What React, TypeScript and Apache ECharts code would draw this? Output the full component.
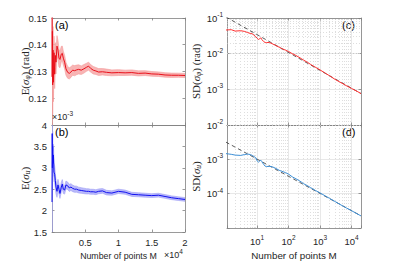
import React, { useEffect, useRef } from 'react';
import * as echarts from 'echarts';

// Panels (a),(b): running estimate vs number of points M
const mLin = [1, 30, 60, 100, 150, 220, 300, 400, 500, 600, 750, 900, 1050, 1200, 1400, 1550, 1700, 1900, 2100, 2350, 2600, 2850, 3100, 3400, 3700, 4000, 4400, 4800, 5200, 5500, 5800, 6200, 6600, 7000, 7600, 8200, 9000, 10000, 11000, 12000, 13000, 14000, 15000, 16000, 17000, 18000, 19000, 20000];
const meanPhi = [0.16, 0.128, 0.145, 0.125, 0.138, 0.126, 0.137, 0.129, 0.136, 0.1335, 0.1395, 0.138, 0.135, 0.1345, 0.1365, 0.1368, 0.135, 0.1335, 0.131, 0.1297, 0.1293, 0.1298, 0.1305, 0.1303, 0.1306, 0.1308, 0.1305, 0.131, 0.1316, 0.132, 0.1312, 0.1305, 0.1302, 0.1298, 0.1299, 0.1297, 0.1295, 0.1296, 0.1295, 0.1296, 0.1293, 0.1294, 0.1291, 0.129, 0.1287, 0.1286, 0.1286, 0.1285];
const halfPhi = [0.046, 0.02, 0.014, 0.011, 0.0088, 0.0073, 0.0062, 0.0054, 0.0048, 0.0044, 0.0039, 0.0036, 0.0033, 0.0031, 0.0029, 0.0027, 0.0026, 0.0025, 0.0024, 0.0022, 0.0021, 0.002, 0.0019, 0.0019, 0.0018, 0.0017, 0.0016, 0.0016, 0.0015, 0.0015, 0.0014, 0.0014, 0.0013, 0.0013, 0.0012, 0.0012, 0.0011, 0.0011, 0.001, 0.001, 0.00095, 0.00091, 0.00088, 0.00085, 0.00083, 0.0008, 0.00078, 0.00076];
// panel (b) values in units of 1e-3
const meanU = [2.2, 3.8, 3.0, 3.5, 3.1, 3.3, 2.9, 2.85, 2.7, 2.55, 2.45, 2.6, 2.5, 2.4, 2.55, 2.62, 2.5, 2.48, 2.6, 2.58, 2.53, 2.55, 2.52, 2.5, 2.5, 2.48, 2.47, 2.46, 2.45, 2.45, 2.44, 2.44, 2.43, 2.45, 2.46, 2.42, 2.41, 2.45, 2.43, 2.38, 2.37, 2.36, 2.35, 2.36, 2.33, 2.3, 2.28, 2.26];
const halfU = [1.5, 0.6, 0.45, 0.35, 0.3, 0.25, 0.22, 0.19, 0.17, 0.16, 0.14, 0.13, 0.12, 0.115, 0.11, 0.105, 0.1, 0.095, 0.09, 0.087, 0.083, 0.08, 0.077, 0.074, 0.071, 0.068, 0.066, 0.064, 0.062, 0.06, 0.059, 0.058, 0.057, 0.056, 0.055, 0.054, 0.052, 0.05, 0.049, 0.048, 0.047, 0.046, 0.045, 0.045, 0.044, 0.044, 0.043, 0.043];

// Panels (c),(d): standard deviation vs M (log-log)
const mLog = [1, 1.5, 2, 3, 4, 5, 6, 7, 8, 9, 10, 11, 12, 13, 14, 16, 18, 20, 25, 30, 40, 50, 60, 80, 100, 130, 160, 200, 250, 300, 400, 500, 700, 1000, 1500, 2000, 3000, 5000, 7000, 10000, 15000, 20000];
const sdPhi = [0.046, 0.047, 0.043, 0.044, 0.042, 0.039, 0.037, 0.036, 0.033, 0.03, 0.027, 0.025, 0.026, 0.028, 0.025, 0.022, 0.0205, 0.0205, 0.0205, 0.019, 0.0168, 0.0152, 0.014, 0.0125, 0.0115, 0.01, 0.0092, 0.0082, 0.0073, 0.0066, 0.0057, 0.005, 0.0042, 0.0035, 0.0028, 0.0024, 0.0019, 0.00148, 0.00125, 0.00106, 0.00088, 0.00076];
const sdU = [0.00147, 0.0014, 0.00133, 0.0013, 0.00138, 0.00142, 0.00138, 0.0013, 0.0012, 0.00112, 0.0009, 0.00083, 0.00088, 0.00095, 0.00086, 0.00072, 0.00063, 0.00062, 0.00062, 0.00061, 0.00054, 0.00048, 0.00045, 0.00041, 0.00037, 0.00031, 0.00028, 0.00025, 0.00022, 0.000195, 0.00017, 0.00015, 0.000125, 0.000105, 0.000085, 0.000073, 0.000059, 0.000045, 0.000038, 0.000032, 0.000026, 0.0000225];
const refM = [1, 20000];
const refPhi = [0.108, 0.00076];
const refU = [0.0032, 0.0000226];

// minor grid positions for log axes
const minorX = [2, 3, 4, 5, 6, 7, 8, 9, 20, 30, 40, 50, 60, 70, 80, 90, 200, 300, 400, 500, 600, 700, 800, 900, 2000, 3000, 4000, 5000, 6000, 7000, 8000, 9000];
const minorYc = [2e-4, 3e-4, 4e-4, 5e-4, 6e-4, 7e-4, 8e-4, 9e-4, 2e-3, 3e-3, 4e-3, 5e-3, 6e-3, 7e-3, 8e-3, 9e-3, 2e-2, 3e-2, 4e-2, 5e-2, 6e-2, 7e-2, 8e-2, 9e-2];
const minorYd = [2e-5, 3e-5, 4e-5, 5e-5, 6e-5, 7e-5, 8e-5, 9e-5, 2e-4, 3e-4, 4e-4, 5e-4, 6e-4, 7e-4, 8e-4, 9e-4, 2e-3, 3e-3, 4e-3, 5e-3, 6e-3, 7e-3, 8e-3, 9e-3];

const SANS = '"Liberation Sans", Arial, sans-serif';
const SERIF = '"Liberation Serif", "DejaVu Serif", serif';
const AX = '#808080';
const TXT = '#262626';

const supRich = {
  b: { fontFamily: SANS, fontSize: 9.5, color: TXT },
  s: { fontFamily: SANS, fontSize: 6.5, color: TXT, padding: [0, 0, 7, 0] },
};
const nameRich = {
  n: { fontFamily: SERIF, fontSize: 11, color: TXT },
  i: { fontFamily: SERIF, fontSize: 11, fontStyle: 'italic', color: TXT },
  u: { fontFamily: SERIF, fontSize: 7.5, fontStyle: 'italic', color: TXT, padding: [5, 0, 0, 0] },
};

function logLabel(v: number, hideMin?: number) {
  const l = Math.log10(v);
  const e = Math.round(l);
  if (Math.abs(l - e) > 1e-6) return '';
  if (hideMin !== undefined && Math.abs(v - hideMin) / hideMin < 1e-6) return '';
  return '{b|10}{s|' + e + '}';
}

export default function App() {
  const ref = useRef<HTMLDivElement>(null);
  useEffect(() => {
    const chart = echarts.init(ref.current!, undefined, { renderer: 'svg' });
    const grids = [
      { left: 52, top: 18, width: 133, height: 107 },
      { left: 52, top: 125, width: 133, height: 107 },
      { left: 227, top: 18, width: 134, height: 107 },
      { left: 227, top: 125, width: 134, height: 107 },
    ];
    const tick = { show: true, inside: true, length: 2.5, lineStyle: { color: AX, width: 0.8 } };
    const line = { show: true, onZero: false, lineStyle: { color: AX, width: 0.8 } };
    const major = { show: true, lineStyle: { color: '#dedede', width: 0.7 } };
    const linX = (g: number, pos: string, labels: boolean, name?: string) => ({
      type: 'value', gridIndex: g, position: pos, min: 0, max: 20000, interval: 5000,
      axisLine: line, axisTick: tick, splitLine: { show: false },
      axisLabel: labels
        ? { show: true, fontFamily: SANS, fontSize: 9.5, color: TXT, margin: 5, formatter: (v: number) => (v === 0 ? '' : String(v / 10000)) }
        : { show: false },
      name, nameLocation: 'middle', nameGap: 19, nameMoveOverlap: false,
      nameTextStyle: { fontFamily: SANS, fontSize: 8.8, color: TXT },
    });
    const logX = (g: number, pos: string, labels: boolean, name?: string) => ({
      type: 'log', logBase: 10, gridIndex: g, position: pos, min: 1.1, max: 20000,
      axisLine: line, axisTick: tick, splitLine: pos === 'bottom' ? major : { show: false },
      axisLabel: labels
        ? { show: true, margin: 6, formatter: (v: number) => logLabel(v), rich: supRich }
        : { show: false },
      name, nameLocation: 'middle', nameGap: 22, nameMoveOverlap: false,
      nameTextStyle: { fontFamily: SANS, fontSize: 9.8, color: TXT },
    });
    const linY = (g: number, pos: string, min: number, max: number, interval: number, labels: boolean, fmt?: (v: number) => string, name?: string) => ({
      type: 'value', gridIndex: g, position: pos, min, max, interval,
      axisLine: line, axisTick: tick, splitLine: { show: false },
      axisLabel: labels ? { show: true, fontFamily: SANS, fontSize: 9.5, color: TXT, margin: 5, formatter: fmt } : { show: false },
      name, nameLocation: 'middle', nameGap: 21, nameRotate: 90, nameMoveOverlap: false,
      nameTextStyle: { rich: nameRich },
    });
    const logY = (g: number, pos: string, min: number, max: number, labels: boolean, name?: string) => ({
      type: 'log', logBase: 10, gridIndex: g, position: pos, min, max,
      axisLine: line, axisTick: tick, splitLine: pos === 'left' ? major : { show: false },
      axisLabel: labels ? { show: true, margin: 4, formatter: (v: number) => logLabel(v, min), rich: supRich } : { show: false },
      name, nameLocation: 'middle', nameGap: 25, nameRotate: 90, nameMoveOverlap: false,
      nameTextStyle: { rich: nameRich },
    });

    const minorLine = (vals: number[], key: 'xAxis' | 'yAxis') => vals.map((v) => ({ [key]: v }));
    const markMinor = (ys: number[]) => ({
      silent: true, symbol: ['none', 'none'], label: { show: false }, z: 1,
      lineStyle: { type: [1, 2], color: '#c8c8c8', width: 0.6 },
      data: [...minorLine(minorX, 'xAxis'), ...minorLine(ys, 'yAxis')],
    });

    // confidence band drawn as one polygon through the axes' scales
    const band = (xi: number, m: number[], mean: number[], half: number[], fill: string, edge: string) => ({
      type: 'custom', xAxisIndex: xi, yAxisIndex: xi, silent: true, z: 1,
      data: [[m[0], mean[0]]],
      renderItem: (params: any, api: any) => {
        const up = m.map((x, i) => api.coord([x, mean[i] + half[i]]));
        const lo = m.map((x, i) => api.coord([x, mean[i] - half[i]])).reverse();
        const cs = params.coordSys;
        return {
          type: 'polygon',
          shape: { points: up.concat(lo) },
          style: { fill, stroke: edge, lineWidth: 0.6 },
          clipPath: { type: 'rect', shape: { x: cs.x, y: cs.y, width: cs.width, height: cs.height } },
        };
      },
    });

    const supText = (txt: string, sup: string, left: number, top: number) => ({
      type: 'text', left, top, z: 10,
      style: {
        text: '{m|' + txt + '}{s|' + sup + '}',
        rich: { m: { fontFamily: SANS, fontSize: 9, fill: TXT }, s: { fontFamily: SANS, fontSize: 6.5, fill: TXT, padding: [0, 0, 6, 0] } },
      },
    });

    chart.setOption({
      animation: false,
      backgroundColor: '#ffffff',
      grid: grids,
      xAxis: [
        linX(0, 'bottom', false), linX(0, 'top', false),
        linX(1, 'bottom', true, 'Number of points M'), linX(1, 'top', false),
        logX(2, 'bottom', false), logX(2, 'top', false),
        logX(3, 'bottom', true, 'Number of points M'), logX(3, 'top', false),
      ],
      yAxis: [
        linY(0, 'left', 0.11, 0.15, 0.01, true, (v: number) => (Math.abs(v - 0.11) < 1e-9 ? '' : v.toFixed(2)), '{n|E(}{i|σ}{u|φ}{n|) (rad)}'),
        linY(0, 'right', 0.11, 0.15, 0.01, false),
        linY(1, 'left', 1.5, 4, 0.5, true, (v: number) => String(v), '{n|E(}{i|σ}{u|u}{n|)}'),
        linY(1, 'right', 1.5, 4, 0.5, false),
        logY(2, 'left', 1e-4, 1e-1, true, '{n|SD(}{i|σ}{u|φ}{n|) (rad)}'),
        logY(2, 'right', 1e-4, 1e-1, false),
        logY(3, 'left', 1e-5, 1e-2, true, '{n|SD(}{i|σ}{u|u}{n|)}'),
        logY(3, 'right', 1e-5, 1e-2, false),
      ],
      series: [
        band(0, mLin, meanPhi, halfPhi, '#f8b4b4', '#f39a9a'),
        {
          type: 'line', xAxisIndex: 0, yAxisIndex: 0, symbol: 'none', silent: true, z: 3,
          data: mLin.map((x, i) => [x, meanPhi[i]]),
          lineStyle: { color: '#e8101a', width: 1 },
        },
        band(2, mLin, meanU, halfU, '#b9b9fa', '#a0a0f5'),
        {
          type: 'line', xAxisIndex: 2, yAxisIndex: 2, symbol: 'none', silent: true, z: 3,
          data: mLin.map((x, i) => [x, meanU[i]]),
          lineStyle: { color: '#1010f0', width: 1 },
        },
        {
          type: 'line', xAxisIndex: 4, yAxisIndex: 4, symbol: 'none', silent: true,
          data: refM.map((x, i) => [x, refPhi[i]]),
          lineStyle: { color: '#333333', width: 0.8, type: [4, 3] },
          markLine: markMinor(minorYc),
        },
        {
          type: 'line', xAxisIndex: 4, yAxisIndex: 4, symbol: 'none', silent: true,
          data: mLog.map((x, i) => [x, sdPhi[i]]),
          lineStyle: { color: '#ff3030', width: 1 },
        },
        {
          type: 'line', xAxisIndex: 6, yAxisIndex: 6, symbol: 'none', silent: true,
          data: refM.map((x, i) => [x, refU[i]]),
          lineStyle: { color: '#333333', width: 0.8, type: [4, 3] },
          markLine: markMinor(minorYd),
        },
        {
          type: 'line', xAxisIndex: 6, yAxisIndex: 6, symbol: 'none', silent: true,
          data: mLog.map((x, i) => [x, sdU[i]]),
          lineStyle: { color: '#3d8fd6', width: 1 },
        },
      ],
      graphic: [
        { type: 'text', left: 55, top: 19, style: { text: '(a)', font: '11px ' + SANS, fill: '#000' } },
        { type: 'text', left: 55, top: 126, style: { text: '(b)', font: '11px ' + SANS, fill: '#000' } },
        { type: 'text', left: 342, top: 19, style: { text: '(c)', font: '11px ' + SANS, fill: '#000' } },
        { type: 'text', left: 342, top: 126, style: { text: '(d)', font: '11px ' + SANS, fill: '#000' } },
        supText('×10', '-3', 52, 110),
        supText('×10', '4', 164, 248),
      ],
    });
    return () => chart.dispose();
  }, []);
  return <div ref={ref} style={{ position: 'absolute', left: 0, top: 0, width: 398, height: 261, background: '#fff' }} />;
}
